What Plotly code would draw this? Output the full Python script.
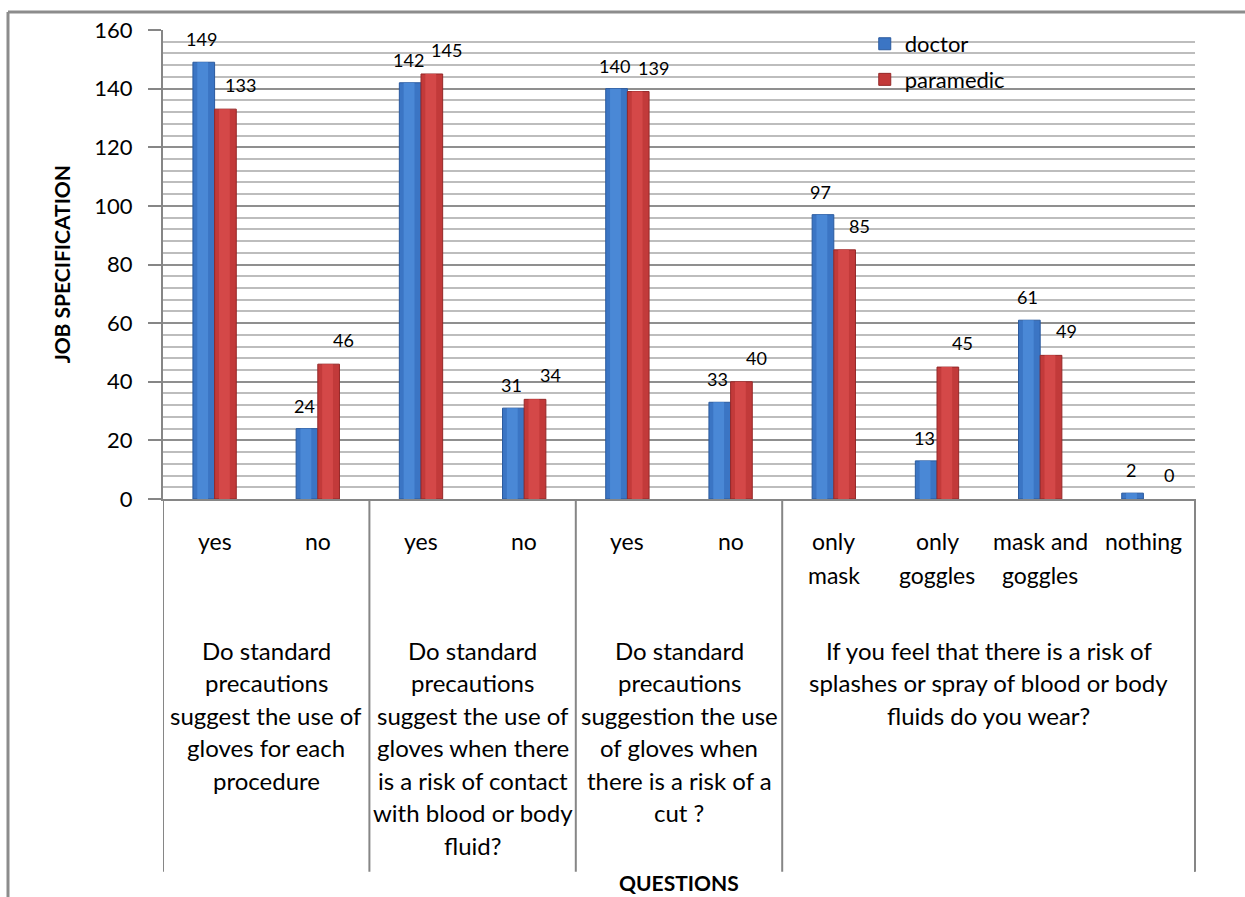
import plotly.graph_objects as go

# ---- data ----
answers = ["yes", "no", "yes", "no", "yes", "no", "only mask", "only goggles", "mask and goggles", "nothing"]
answer_lines = [["yes"], ["no"], ["yes"], ["no"], ["yes"], ["no"],
                ["only", "mask"], ["only", "goggles"], ["mask and", "goggles"], ["nothing"]]
doctor = [149, 24, 142, 31, 140, 33, 97, 13, 61, 2]
paramedic = [133, 46, 145, 34, 139, 40, 85, 45, 49, 0]
question_lines = [
    ["Do standard", "precautions", "suggest the use of", "gloves for each", "procedure"],
    ["Do standard", "precautions", "suggest the use of", "gloves when there", "is a risk of contact",
     "with blood or body", "fluid?"],
    ["Do standard", "precautions", "suggestion the use", "of gloves when", "there is a risk of a", "cut ?"],
    ["If you feel that there is a risk of", "splashes or spray of blood or body", "fluids do you wear?"],
]
question_sizes = [2, 2, 2, 4]
y_ticks = [0, 20, 40, 60, 80, 100, 120, 140, 160]

FONT = "Lato"
BLUE = "#3b75c4"
BLUE_EDGE = "#2a5a9e"
BLUE_HI = "#4a88d6"
RED = "#c23a3a"
RED_EDGE = "#952828"
RED_HI = "#d44848"
AXIS = "#868686"

x = list(range(len(answers)))
bw = 0.21  # width of each bar (category units)


def edge_widths(vals):
    return [0 if v == 0 else 1 for v in vals]


fig = go.Figure()
# main bars (darker edge tone)
fig.add_trace(go.Bar(x=x, y=doctor, name="doctor", legendgroup="d", offset=-bw, width=bw,
                     marker=dict(color=BLUE, line=dict(color=BLUE_EDGE, width=edge_widths(doctor)))))
fig.add_trace(go.Bar(x=x, y=paramedic, name="paramedic", legendgroup="p", offset=0, width=bw,
                     marker=dict(color=RED, line=dict(color=RED_EDGE, width=edge_widths(paramedic)))))
# lighter centre strip to suggest the rounded 3D shading
fig.add_trace(go.Bar(x=x, y=doctor, showlegend=False, hoverinfo="skip", offset=-bw * 0.8, width=bw * 0.5,
                     marker=dict(color=BLUE_HI, line=dict(width=0))))
fig.add_trace(go.Bar(x=x, y=paramedic, showlegend=False, hoverinfo="skip", offset=bw * 0.2, width=bw * 0.5,
                     marker=dict(color=RED_HI, line=dict(width=0))))

annotations = []
# value labels
for i, (d, p) in enumerate(zip(doctor, paramedic)):
    annotations.append(dict(x=i - bw / 2, y=d, xref="x", yref="y", text=str(d), showarrow=False,
                            xshift=-2, yshift=23, font=dict(family=FONT, size=18, color="#000")))
    annotations.append(dict(x=i + bw / 2, y=p, xref="x", yref="y", text=str(p), showarrow=False,
                            xshift=15, yshift=24, font=dict(family=FONT, size=18, color="#000")))

# first level category labels
for i, lines in enumerate(answer_lines):
    for k, ln in enumerate(lines):
        annotations.append(dict(x=i, y=0, xref="x", yref="paper", text=ln, showarrow=False,
                                yanchor="middle", yshift=-42 - 34 * k,
                                font=dict(family=FONT, size=23, color="#000")))

# second level group labels
start = 0
separators = [-0.5]
for lines, n in zip(question_lines, question_sizes):
    center = start + (n - 1) / 2
    for k, ln in enumerate(lines):
        annotations.append(dict(x=center, y=0, xref="x", yref="paper", text=ln, showarrow=False,
                                yanchor="middle", yshift=-151 - 32.5 * k,
                                font=dict(family=FONT, size=24, color="#000")))
    start += n
    separators.append(start - 0.5)

annotations.append(dict(x=0.5, y=0, xref="paper", yref="paper", text="<b>QUESTIONS</b>", showarrow=False,
                        xanchor="center", yanchor="middle", yshift=-383,
                        font=dict(family=FONT, size=21, color="#000")))
annotations.append(dict(x=-0.098, y=0.5, xref="paper", yref="paper", text="<b>JOB SPECIFICATION</b>",
                        showarrow=False, textangle=-90, xanchor="center", yanchor="middle",
                        font=dict(family=FONT, size=21, color="#000")))

shapes = []
for s in separators:
    shapes.append(dict(type="line", xref="x", yref="paper", x0=s, x1=s, y0=0, y1=-0.795,
                       line=dict(color=AXIS, width=2)))
shapes.append(dict(type="line", xref="paper", yref="paper", x0=1, x1=1, y0=0, y1=-0.795,
                   line=dict(color=AXIS, width=2)))
# outer chart border (left and top)
shapes.append(dict(type="line", xref="paper", yref="paper", x0=-0.1502, x1=-0.1502, y0=-0.86, y1=1.0384,
                   line=dict(color="#8c8c8c", width=3)))
shapes.append(dict(type="line", xref="paper", yref="paper", x0=-0.1502, x1=1.1, y0=1.0384, y1=1.0384,
                   line=dict(color="#8c8c8c", width=3)))

fig.update_layout(
    width=1245, height=897,
    margin=dict(l=163, r=50, t=30, b=398),
    paper_bgcolor="white", plot_bgcolor="white",
    barmode="overlay",
    font=dict(family=FONT, size=20, color="#000"),
    showlegend=True,
    legend=dict(x=0.68, y=1.015, xanchor="left", yanchor="top", tracegroupgap=4,
                font=dict(family=FONT, size=22, color="#000"), bgcolor="rgba(0,0,0,0)",
                itemwidth=30),
    annotations=annotations,
    shapes=shapes,
)
fig.update_xaxes(range=[-0.5, len(answers) - 0.5], showticklabels=False, showgrid=False,
                 zeroline=False, showline=True, linecolor=AXIS, linewidth=2, ticks="")
fig.update_yaxes(range=[0, 160], tickvals=y_ticks, ticks="outside", ticklen=13, tickcolor=AXIS,
                 tickwidth=2, ticklabelstandoff=11, showline=True, linecolor=AXIS, linewidth=2,
                 showgrid=True, gridcolor="#8f8f8f", gridwidth=2, zeroline=False,
                 tickfont=dict(family=FONT, size=22, color="#000"),
                 minor=dict(dtick=4, showgrid=True, gridcolor="#bdbdbd", gridwidth=2))

fig.write_html("out.html")
